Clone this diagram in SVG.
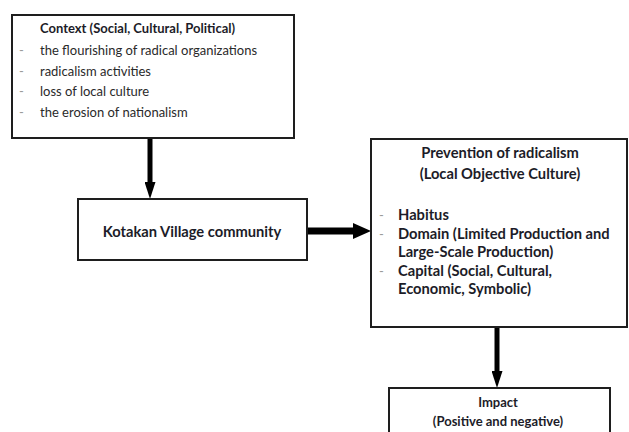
<svg xmlns="http://www.w3.org/2000/svg" width="629" height="432" viewBox="0 0 629 432">
<style>
.box{fill:#fff;stroke:#1e1e1e;stroke-width:2}
.t{font-family:Lato,"Open Sans","Liberation Sans",sans-serif;font-size:13px;fill:#2a2a2a}
.b{font-weight:bold;fill:#1c1c28}
.l{font-size:14.7px}
.d{fill:#9a9a9a}
.c{text-anchor:middle}
.conn{stroke:#000;fill:none}
</style>
<defs>
<marker id="ah" markerUnits="userSpaceOnUse" viewBox="0 0 17 11" markerWidth="17" markerHeight="11" refX="0" refY="5.5" orient="auto">
<path d="M0,0 L17,5.5 L0,11 Z" fill="#000"/>
</marker>
<marker id="ah2" markerUnits="userSpaceOnUse" viewBox="0 0 18 16" markerWidth="18" markerHeight="16" refX="0" refY="8" orient="auto">
<path d="M0,0 L18,8 L0,16 Z" fill="#000"/>
</marker>
</defs>
<rect width="629" height="432" fill="#fff"/>
<g id="connectors">
<path class="conn" d="M150,138 V182" stroke-width="5" marker-end="url(#ah)"/>
<path class="conn" d="M307,231 H353" stroke-width="7" marker-end="url(#ah2)"/>
<path class="conn" d="M497,328 V371" stroke-width="5" marker-end="url(#ah)"/>
</g>
<g id="context">
<rect class="box" x="12" y="15" width="282" height="123"/>
<text class="t b" x="40" y="33">Context (Social, Cultural, Political)</text>
<text class="t d" x="19" y="55">-</text>
<text class="t" x="40" y="55">the flourishing of radical organizations</text>
<text class="t d" x="19" y="76">-</text>
<text class="t" x="40" y="76">radicalism activities</text>
<text class="t d" x="19" y="96">-</text>
<text class="t" x="40" y="96">loss of local culture</text>
<text class="t d" x="19" y="117">-</text>
<text class="t" x="40" y="117">the erosion of nationalism</text>
</g>
<g id="community">
<rect class="box" x="78" y="199" width="229" height="61"/>
<text class="t b l c" x="192" y="237">Kotakan Village community</text>
</g>
<g id="prevention">
<rect class="box" x="371" y="139" width="256" height="188"/>
<text class="t b l c" x="500" y="158">Prevention of radicalism</text>
<text class="t b l c" x="500" y="179">(Local Objective Culture)</text>
<text class="t d" x="379" y="220">-</text>
<text class="t b l" x="398" y="220">Habitus</text>
<text class="t d" x="379" y="239">-</text>
<text class="t b l" x="398" y="239">Domain (Limited Production and</text>
<text class="t b l" x="398" y="257">Large-Scale Production)</text>
<text class="t d" x="379" y="276">-</text>
<text class="t b l" x="398" y="276">Capital (Social, Cultural,</text>
<text class="t b l" x="398" y="294">Economic, Symbolic)</text>
</g>
<g id="impact">
<rect class="box" x="389" y="388" width="221" height="50"/>
<text class="t b c" x="498" y="407">Impact</text>
<text class="t b c" x="498" y="426">(Positive and negative)</text>
</g>
</svg>
